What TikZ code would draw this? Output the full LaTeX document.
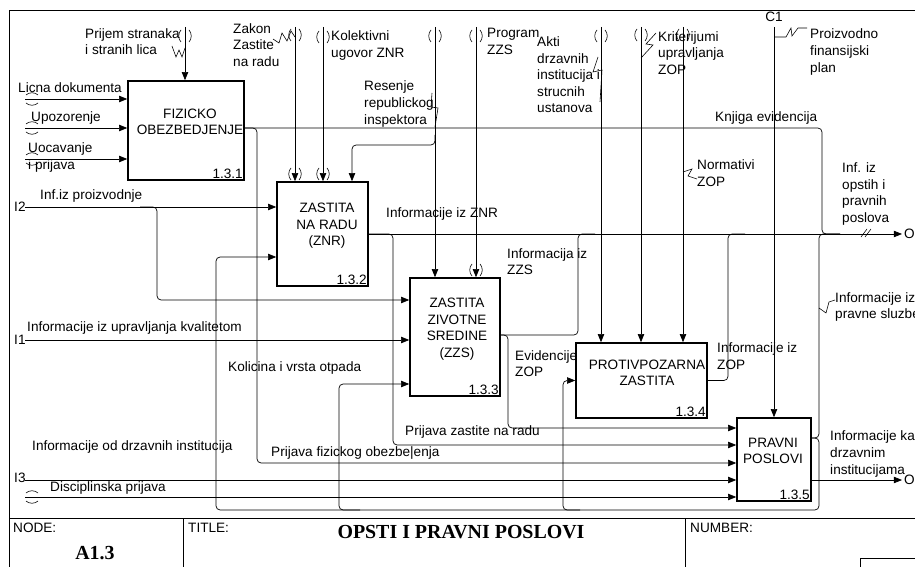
\documentclass[tikz,border=0pt]{standalone}
\usepackage{fontspec}
\setmainfont{Liberation Sans}
\newfontfamily\titlefont{Liberation Serif}
\usetikzlibrary{arrows.meta}

\begin{document}
\begin{tikzpicture}[x=0.03cm,y=-0.03cm,
    font=\fontsize{11.6}{14.1}\selectfont,
    box/.style={draw,line width=1.3pt,inner sep=0pt},
    boxtext/.style={align=center,inner sep=0pt},
    num/.style={inner sep=1.5pt,anchor=south east},
    lbl/.style={align=left,inner sep=0pt,anchor=west},
    ttl/.style={font=\titlefont\fontsize{17}{20}\selectfont\bfseries,inner sep=0pt},
    arr/.style={-{Triangle[length=7pt,width=5.5pt]},line width=0.6pt,rounded corners=3.5pt},
    ln/.style={line width=0.6pt,rounded corners=3.5pt},
    sq/.style={line width=0.5pt},
    tunv/.pic={\draw[line width=0.5pt] (-4,-6) .. controls (-7,-3) and (-7,3) .. (-4,6);
               \draw[line width=0.5pt] (4,-6) .. controls (7,-3) and (7,3) .. (4,6);},
    tunh/.pic={\draw[line width=0.5pt] (-6,-4) .. controls (-3,-7) and (3,-7) .. (6,-4);
               \draw[line width=0.5pt] (-6,4) .. controls (-3,7) and (3,7) .. (6,4);},
  ]
  \useasboundingbox (0,0) rectangle (915,567);
  \clip (0,0) rectangle (915,567);

  % frame and title block
  \draw[line width=0.8pt] (9,10) rectangle (940,600);
  \draw[line width=0.8pt] (9,518) -- (940,518);
  \draw[line width=0.8pt] (183,518) -- (183,600);
  \draw[line width=0.8pt] (685,518) -- (685,600);
  \draw[line width=0.6pt] (860,558) rectangle (940,600);
  \node[lbl] (nodelbl) at (13,528) {NODE:};
  \node[ttl] (nodeid) at (95,553) {A1.3};
  \node[lbl] (titlelbl) at (188,528) {TITLE:};
  \node[ttl] (title) at (461,532) {OPSTI I PRAVNI POSLOVI};
  \node[lbl] (numlbl) at (690,528) {NUMBER:};

  % activities
  \node[box,minimum width=3.48cm,minimum height=2.97cm] (b1) at (186,130.5) {};
  \node[box,minimum width=2.73cm,minimum height=3.12cm] (b2) at (322.5,234) {};
  \node[box,minimum width=2.70cm,minimum height=3.54cm] (b3) at (455,337) {};
  \node[box,minimum width=3.93cm,minimum height=2.25cm] (b4) at (641.5,380.5) {};
  \node[box,minimum width=2.22cm,minimum height=2.49cm] (b5) at (774,459.5) {};
  \node[boxtext] (t1) at (190,122) {FIZICKO\\OBEZBEDJENJE};
  \node[boxtext] (t2) at (327,226) {ZASTITA\\NA RADU\\(ZNR)};
  \node[boxtext] (t3) at (457,329) {ZASTITA\\ZIVOTNE\\SREDINE\\(ZZS)};
  \node[boxtext] (t4) at (647,373) {PROTIVPOZARNA\\ZASTITA};
  \node[boxtext] (t5) at (773,451) {PRAVNI\\POSLOVI};
  \node[num] (n1) at (b1.south east) {1.3.1};
  \node[num] (n2) at (b2.south east) {1.3.2};
  \node[num] (n3) at (b3.south east) {1.3.3};
  \node[num] (n4) at (b4.south east) {1.3.4};
  \node[num] (n5) at (b5.south east) {1.3.5};

  % inputs
  \coordinate (in1) at (25,99);
  \coordinate (in2) at (25,128);
  \coordinate (in3) at (25,159);
  \coordinate (in4) at (25,207);
  \coordinate (in5) at (25,340);
  \coordinate (in6) at (25,480);
  \coordinate (in7) at (25,497);
  \coordinate (k2) at (140,207);
  \draw[arr] (in1) -- (in1 -| b1.west);
  \draw[arr] (in2) -- (in2 -| b1.west);
  \draw[arr] (in3) -- (in3 -| b1.west);
  \draw[arr] (in4) -- (in4 -| b2.west);
  \draw[arr] (k2) -| (157,300) -- (b3.west |- 0,300);
  \draw[arr] (in5) -- (in5 -| b3.west);
  \draw[arr] (in6) -- (in6 -| b5.west);
  \draw[arr] (in7) -- (in7 -| b5.west);
  \foreach \y in {99,128,159,497} \pic at (32,\y) {tunh};

  % controls
  \coordinate (ct1) at (185,27);
  \coordinate (ct2) at (295,27);
  \coordinate (ct3) at (323,27);
  \coordinate (ct4) at (435,27);
  \coordinate (ct5) at (476,27);
  \coordinate (ct6) at (601,27);
  \coordinate (ct7) at (641,27);
  \coordinate (ct8) at (683,27);
  \coordinate (ct9) at (774,27);
  \coordinate (k4) at (435,135);
  \draw[arr] (ct1) -- (ct1 |- b1.north);
  \draw[arr] (ct2) -- (ct2 |- b2.north);
  \draw[arr] (ct3) -- (ct3 |- b2.north);
  \draw[arr] (ct4) -- (ct4 |- b3.north);
  \draw[arr] (k4) -- (435,145) -| (b2.north -| 352,0);
  \draw[arr] (ct5) -- (ct5 |- b3.north);
  \draw[arr] (ct6) -- (ct6 |- b4.north);
  \draw[arr] (ct7) -- (ct7 |- b4.north);
  \draw[arr] (ct8) -- (ct8 |- b4.north);
  \draw[arr] (ct9) -- (ct9 |- b5.north);
  \foreach \x/\y in {185/36,295/35,323/37,435/36,476/36,601/36,641/35,683/35,295/174,323/174,476/270}
    \pic at (\x,\y) {tunv};

  % outputs
  \coordinate (o1) at (902,234);
  \coordinate (o2) at (902,480);
  \draw[arr] (b2.east) -- (o1);
  \draw[ln] (b1.east |- 0,128) -- (822,128) -- (822,234) -- (840,234);
  \draw[arr] (b1.east |- 0,128) -| (257,463) -- (b5.west |- 0,463);
  \draw[arr] (b2.east) -| (393,445) -- (b5.west |- 0,445);
  \draw[ln] (b3.east |- 0,335) -- (578,335) -- (578,234) -- (595,234);
  \draw[arr] (b3.east |- 0,335) -| (508,428) -- (b5.west |- 0,428);
  \draw[ln] (b4.east) -- (728,380.5) -- (728,234) -- (745,234);
  \draw[arr] (b5.east |- 0,480) -- (o2);
  \draw[ln] (b5.east |- 0,438) -| (819,234) -- (840,234);
  \draw[arr] (b5.east |- 0,438) -- (819,438) -- (819,510) -- (216,510) -- (216,257) -- (b2.west |- 0,257);
  \draw[arr] (360,510) -- (339,510) -- (339,384) -- (b3.west |- 0,384);
  \draw[arr] (580,510) -- (563,510) -- (563,380.5) -- (b4.west);

  % squiggles
  \draw[sq] (172,46) -- (176,57) -- (179,50) -- (182,57) -- (185,48);
  \draw[sq] (273,39) -- (279,43) -- (282,33) -- (287,41) -- (291,31) -- (295,37);
  \draw[sq] (432,93) -- (431,107) -- (438,108) -- (435,127);
  \draw[sq] (598,57) -- (593,72) -- (602,70) -- (600,102);
  \draw[sq] (656,33) -- (646,44) -- (653,45) -- (641,58);
  \draw[sq] (683,172) -- (692,169) -- (688,176) -- (697,179);
  \draw[sq] (774,37) -- (786,37) -- (791,28) -- (792,36) -- (798,28) -- (807,28);
  \draw[sq] (861,237) -- (867,229);
  \draw[sq] (865,237) -- (871,229);
  \draw[sq] (819,308) -- (826,313) -- (829,302) -- (835,300);

  % arrow labels
  \node (c1) at (774,17) {C1};
  \node[lbl] (lI2) at (14,207) {I2};
  \node[lbl] (lI1) at (14,340) {I1};
  \node[lbl] (lI3) at (14,478) {I3};
  \node[lbl] (lO1) at (904,234) {O1};
  \node[lbl] (lO2) at (904,480) {O2};
  \node[lbl] (l1) at (18,88) {Licna dokumenta};
  \node[lbl] (l2) at (31,118) {Upozorenje};
  \node[lbl] (l3) at (28,157.5) {Uocavanje\\i prijava};
  \node[lbl] (l4) at (85,41.5) {Prijem stranaka\\i stranih lica};
  \node[lbl] (l5) at (233,45) {Zakon\\Zastite\\na radu};
  \node[lbl] (l6) at (331,45.5) {Kolektivni\\ugovor ZNR};
  \node[lbl] (l7) at (364,104) {Resenje\\republickog\\inspektora};
  \node[lbl] (l8) at (487,41.5) {Program\\ZZS};
  \node[lbl] (l9) at (537,75) {Akti\\drzavnih\\institucija i\\strucnih\\ustanova};
  \node[lbl] (l10) at (658,53) {Kriterijumi\\upravljanja\\ZOP};
  \node[lbl] (l11) at (810,52) {Proizvodno\\finansijski\\plan};
  \node[lbl] (l12) at (715,118) {Knjiga evidencija};
  \node[lbl] (l13) at (697,173) {Normativi\\ZOP};
  \node[lbl] (l14) at (842,194) {Inf. iz\\opstih i\\pravnih\\poslova};
  \node[lbl] (l15) at (40,196) {Inf.iz proizvodnje};
  \node[lbl] (l16) at (386,214) {Informacije iz ZNR};
  \node[lbl] (l17) at (507,261.5) {Informacija iz\\ZZS};
  \node[lbl] (l18) at (27,328) {Informacije iz upravljanja kvalitetom};
  \node[lbl] (l19) at (228,368) {Kolicina i vrsta otpada};
  \node[lbl] (l20) at (515,363.5) {Evidencije\\ZOP};
  \node[lbl] (l21) at (717,356) {Informacije iz\\ZOP};
  \node[lbl] (l22) at (835,307) {Informacije iz\\pravne sluzbe};
  \node[lbl] (l23) at (830,454) {Informacije ka\\drzavnim\\institucijama};
  \node[lbl] (l24) at (405,432) {Prijava zastite na radu};
  \node[lbl] (l25) at (271,453) {Prijava fizickog obezbe|enja};
  \node[lbl] (l26) at (32,447) {Informacije od drzavnih institucija};
  \node[lbl] (l27) at (50,488) {Disciplinska prijava};
\end{tikzpicture}
\end{document}
